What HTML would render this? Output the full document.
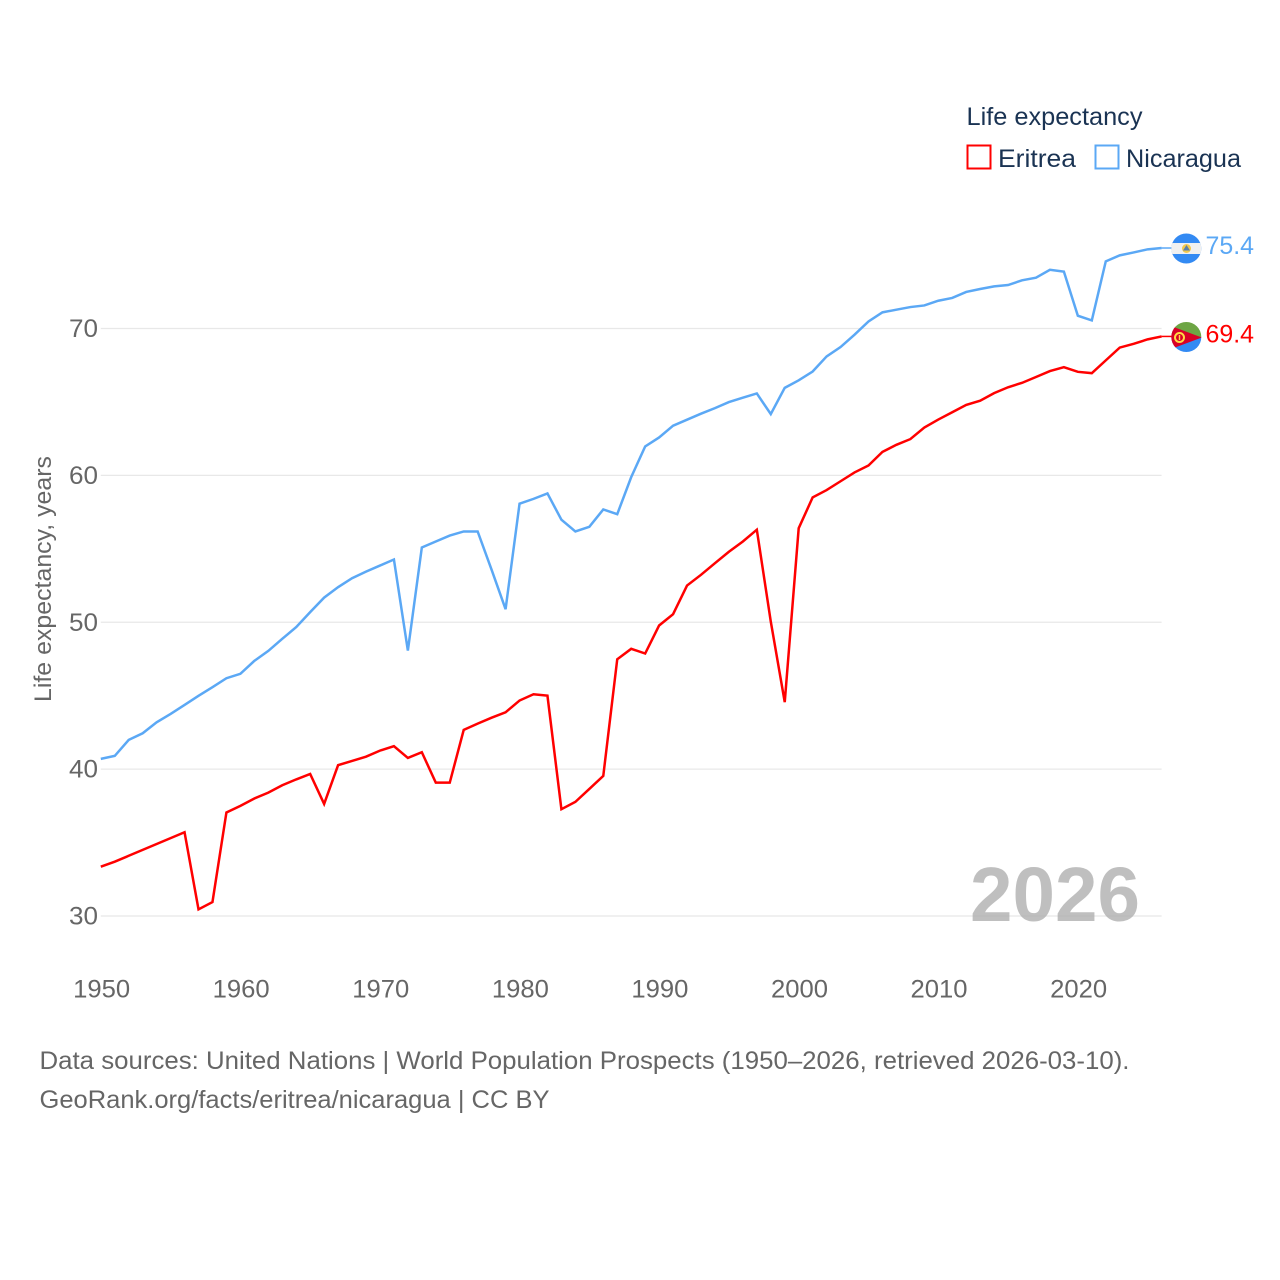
<!DOCTYPE html>
<html>
<head>
<meta charset="utf-8">
<title>Life expectancy: Eritrea and Nicaragua</title>
<style>
html,body{margin:0;padding:0;background:#fff;}
svg{display:block;}
text{font-family:"Liberation Sans",sans-serif;}
</style>
</head>
<body>
<svg id="chart" width="1280" height="1280" viewBox="0 0 1280 1280" xmlns="http://www.w3.org/2000/svg">
  <defs>
    <clipPath id="clip-ni"><circle cx="1186.3" cy="248.5" r="15"/></clipPath>
    <clipPath id="clip-er"><circle cx="1186.3" cy="337" r="15"/></clipPath>
  </defs>
  <rect width="1280" height="1280" fill="#fff"/>
  <g id="grid"></g>
  <g id="yticks"></g>
  <g id="xticks"></g>
  <text transform="translate(51,702) rotate(-90)" font-size="24.5" fill="#666" textLength="246" lengthAdjust="spacingAndGlyphs">Life expectancy, years</text>
  <text x="970" y="921" font-size="77" font-weight="700" fill="#aaa" fill-opacity="0.75" textLength="170" lengthAdjust="spacingAndGlyphs">2026</text>
  <g id="series"></g>

  <g clip-path="url(#clip-ni)">
    <rect x="1171" y="233" width="31" height="31" fill="#338af3"/>
    <rect x="1171" y="243" width="31" height="11" fill="#f0f0f0"/>
    <circle cx="1186.5" cy="248.5" r="4.5" fill="#f2c94c"/>
    <path d="M1186.5 245L1190 250.5H1183Z" fill="#5b7fa8"/>
  </g>
  <g clip-path="url(#clip-er)">
    <rect x="1171" y="322" width="31" height="15" fill="#6da544"/>
    <path d="M1171 337H1202V352H1171Z" fill="#338af3"/>
    <path d="M1171 326L1202 337.5L1171 349Z" fill="#d80027"/>
    <circle cx="1179.5" cy="337.5" r="4.5" fill="none" stroke="#ffda44" stroke-width="2"/>
    <rect x="1178.8" y="335" width="1.4" height="5" fill="#ffda44"/>
  </g>

  <text x="1205.5" y="254" font-size="25" fill="#5ba8f5" textLength="48.5" lengthAdjust="spacingAndGlyphs">75.4</text>
  <text x="1205.5" y="342.5" font-size="25" fill="#ff0000" textLength="48.5" lengthAdjust="spacingAndGlyphs">69.4</text>

  <g>
    <text x="966.5" y="125" font-size="25" fill="#1a3353" textLength="176" lengthAdjust="spacingAndGlyphs">Life expectancy</text>
    <g>
      <rect x="967.5" y="145.5" width="23" height="23" fill="#fff" stroke="#ff0000" stroke-width="2"/>
      <text x="998" y="167" font-size="25" fill="#1a3353" textLength="78" lengthAdjust="spacingAndGlyphs">Eritrea</text>
    </g>
    <g>
      <rect x="1095.5" y="145.5" width="23" height="23" fill="#fff" stroke="#5ba8f5" stroke-width="2"/>
      <text x="1126" y="167" font-size="25" fill="#1a3353" textLength="115" lengthAdjust="spacingAndGlyphs">Nicaragua</text>
    </g>
  </g>

  <text x="39.5" y="1069" font-size="25" fill="#666" textLength="1090" lengthAdjust="spacingAndGlyphs">Data sources: United Nations | World Population Prospects (1950–2026, retrieved 2026-03-10).</text>
  <text x="39.5" y="1108" font-size="25" fill="#666" textLength="510" lengthAdjust="spacingAndGlyphs">GeoRank.org/facts/eritrea/nicaragua | CC BY</text>
</svg>
<script>
const years = [1950,1951,1952,1953,1954,1955,1956,1957,1958,1959,1960,1961,1962,1963,1964,1965,1966,1967,1968,1969,1970,1971,1972,1973,1974,1975,1976,1977,1978,1979,1980,1981,1982,1983,1984,1985,1986,1987,1988,1989,1990,1991,1992,1993,1994,1995,1996,1997,1998,1999,2000,2001,2002,2003,2004,2005,2006,2007,2008,2009,2010,2011,2012,2013,2014,2015,2016,2017,2018,2019,2020,2021,2022,2023,2024,2025,2026];
const eritrea = [33.36,33.7,34.1,34.5,34.9,35.3,35.7,30.45,30.95,37.05,37.5,38.0,38.4,38.9,39.3,39.67,37.63,40.27,40.56,40.85,41.26,41.56,40.76,41.15,39.08,39.08,42.67,43.1,43.5,43.87,44.67,45.1,45.0,37.27,37.77,38.65,39.54,47.48,48.19,47.87,49.78,50.55,52.5,53.23,54.02,54.8,55.5,56.3,50.05,44.56,56.4,58.5,59.0,59.6,60.2,60.67,61.6,62.08,62.47,63.26,63.8,64.3,64.8,65.08,65.6,66.0,66.3,66.7,67.1,67.37,67.05,66.96,67.83,68.7,68.96,69.26,69.46];
const nicaragua = [40.7,40.9,41.99,42.44,43.19,43.76,44.37,44.99,45.58,46.19,46.49,47.37,48.05,48.87,49.67,50.69,51.68,52.39,53.0,53.45,53.86,54.27,48.07,55.09,55.5,55.9,56.18,56.18,53.57,50.89,58.07,58.4,58.77,56.98,56.18,56.5,57.68,57.36,59.88,61.97,62.58,63.38,63.79,64.2,64.58,64.99,65.29,65.58,64.17,65.96,66.47,67.07,68.1,68.74,69.58,70.48,71.1,71.28,71.46,71.57,71.89,72.08,72.49,72.69,72.87,72.96,73.28,73.46,74.0,73.87,70.87,70.55,74.57,74.98,75.18,75.39,75.48];
const yTickValues = [30,40,50,60,70];
const xTickValues = [1950,1960,1970,1980,1990,2000,2010,2020];

const NS = 'http://www.w3.org/2000/svg';
function xScale(year){ return 100.8 + (year - 1950) * (1161.6 - 100.8) / (2026 - 1950); }
function yScale(value){ return 916 - (value - 30) * (916 - 328.5) / (70 - 30); }
function make(tag, parent){
  const el = document.createElementNS(NS, tag);
  parent.appendChild(el);
  return el;
}

const gridGroup = document.getElementById('grid');
const yGroup = document.getElementById('yticks');
const xGroup = document.getElementById('xticks');
const seriesGroup = document.getElementById('series');

yTickValues.forEach(function(v){
  const line = make('line', gridGroup);
  
  
  line.setAttribute('x1', xScale(1950));
  line.setAttribute('x2', xScale(2026));
  line.setAttribute('y1', yScale(v));
  line.setAttribute('y2', yScale(v));
  line.setAttribute('stroke', '#e8e8e8');
  line.setAttribute('stroke-width', '1.3');

  const label = make('text', yGroup);
  
  
  label.setAttribute('x', '98');
  label.setAttribute('y', yScale(v) + 8.5);
  label.setAttribute('text-anchor', 'end');
  label.setAttribute('font-size', '25');
  label.setAttribute('fill', '#666');
  label.setAttribute('textLength', '29');
  label.setAttribute('lengthAdjust', 'spacingAndGlyphs');
  label.textContent = String(v);
});

xTickValues.forEach(function(v){
  const label = make('text', xGroup);
  
  
  label.setAttribute('x', xScale(v) + 0.8);
  label.setAttribute('y', '997.5');
  label.setAttribute('text-anchor', 'middle');
  label.setAttribute('font-size', '25');
  label.setAttribute('fill', '#666');
  label.setAttribute('textLength', '57');
  label.setAttribute('lengthAdjust', 'spacingAndGlyphs');
  label.textContent = String(v);
});

function seriesPath(values){
  return values.map(function(v, i){
    return (i ? 'L' : 'M') + xScale(years[i]).toFixed(2) + ' ' + yScale(v).toFixed(2);
  }).join(' ');
}

const blueLine = make('path', seriesGroup);


blueLine.setAttribute('d', seriesPath(nicaragua));
blueLine.setAttribute('fill', 'none');
blueLine.setAttribute('stroke', '#5ba8f5');
blueLine.setAttribute('stroke-width', '2.5');
blueLine.setAttribute('stroke-linejoin', 'miter');

const redLine = make('path', seriesGroup);


redLine.setAttribute('d', seriesPath(eritrea));
redLine.setAttribute('fill', 'none');
redLine.setAttribute('stroke', '#ff0000');
redLine.setAttribute('stroke-width', '2.5');
redLine.setAttribute('stroke-linejoin', 'miter');

const blueLeader = make('line', seriesGroup);


blueLeader.setAttribute('x1', xScale(2026));
blueLeader.setAttribute('x2', '1172');
blueLeader.setAttribute('y1', yScale(nicaragua[nicaragua.length - 1]));
blueLeader.setAttribute('y2', yScale(nicaragua[nicaragua.length - 1]));
blueLeader.setAttribute('stroke', '#5ba8f5');
blueLeader.setAttribute('stroke-width', '1.5');

const redLeader = make('line', seriesGroup);


redLeader.setAttribute('x1', xScale(2026));
redLeader.setAttribute('x2', '1172');
redLeader.setAttribute('y1', yScale(eritrea[eritrea.length - 1]));
redLeader.setAttribute('y2', yScale(eritrea[eritrea.length - 1]));
redLeader.setAttribute('stroke', '#ff0000');
redLeader.setAttribute('stroke-width', '1.5');
</script>
</body>
</html>
